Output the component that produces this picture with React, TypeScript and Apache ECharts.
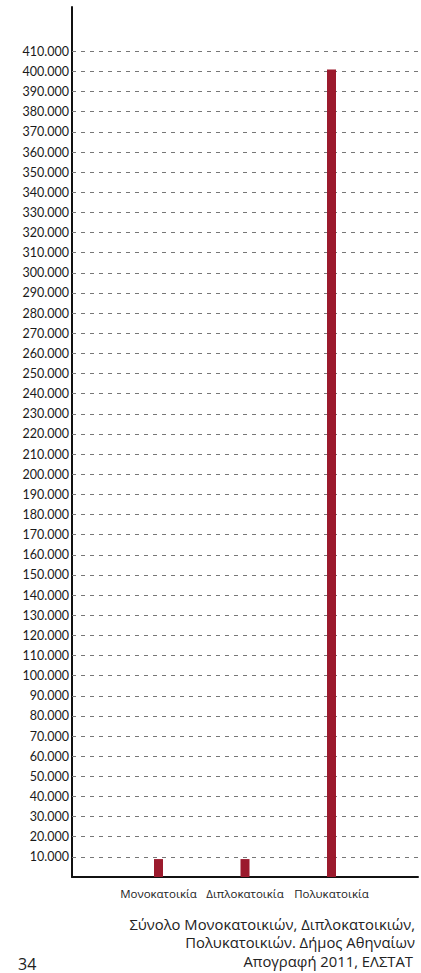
import React, { useEffect, useRef } from "react";
import * as echarts from "echarts";

const categories = ["", "Μονοκατοικία", "Διπλοκατοικία", "Πολυκατοικία", ""];
const values: (number | null)[] = [null, 8900, 8900, 401000, null];
const gridTicks = [
  10000, 20000, 30000, 40000, 50000, 60000, 70000, 80000, 90000, 100000,
  110000, 120000, 130000, 140000, 150000, 160000, 170000, 180000, 190000, 200000,
  210000, 220000, 230000, 240000, 250000, 260000, 270000, 280000, 290000, 300000,
  310000, 320000, 330000, 340000, 350000, 360000, 370000, 380000, 390000, 400000, 410000,
];
const footerLines = [
  "Σύνολο Μονοκατοικιών, Διπλοκατοικιών,",
  "Πολυκατοικιών. Δήμος Αθηναίων",
  "Απογραφή 2011, ΕΛΣΤΑΤ",
];
const pageNumber = "34";

const FONT = "Lato, 'Noto Sans', sans-serif";
const TFONT = "'Open Sans', 'Noto Sans', sans-serif";
const fmt = (v: number) => String(v).replace(/\B(?=(\d{3})+(?!\d))/g, ".");

export default function App() {
  const ref = useRef<HTMLDivElement>(null);
  useEffect(() => {
    if (!ref.current) return;
    const chart = echarts.init(ref.current, null, { renderer: "svg" });
    const labelSet = new Set(gridTicks);
    const footerY = [923.5, 942, 960.5];
    const footerX = [415, 415, 413];
    chart.setOption({
      animation: false,
      backgroundColor: "#ffffff",
      textStyle: { fontFamily: FONT },
      grid: { left: 72, right: -5, top: 7, bottom: 96, containLabel: false },
      xAxis: {
        type: "category",
        data: categories,
        boundaryGap: false,
        axisLine: { show: true, lineStyle: { color: "#111", width: 2 } },
        axisTick: { show: false },
        axisLabel: { interval: 0, color: "#222", fontSize: 11.5, margin: 10, fontFamily: TFONT },
        splitLine: { show: false },
      },
      yAxis: {
        type: "value",
        min: 0,
        max: 432000,
        interval: 10000,
        axisLine: { show: true, lineStyle: { color: "#111", width: 2 } },
        axisTick: { show: false },
        splitLine: { show: false },
        axisLabel: {
          color: "#1a1a1a",
          fontSize: 12.5,
          margin: 3,
          fontFamily: FONT,
          formatter: (v: number) => (labelSet.has(v) ? fmt(v) : ""),
        },
      },
      series: [
        {
          type: "bar",
          data: values,
          barWidth: 9,
          itemStyle: { color: "#9b1a2d" },
          z: 3,
          markLine: {
            silent: true,
            symbol: "none",
            label: { show: false },
            lineStyle: { color: "#777777", type: [4, 5], width: 1 },
            data: gridTicks.map((v) => ({ yAxis: v })),
            z: 1,
          },
        },
      ],
      graphic: [
        ...footerLines.map((t, i) => ({
          type: "text",
          x: footerX[i],
          y: footerY[i],
          style: {
            text: t,
            fill: "#222",
            font: `14.8px ${TFONT}`,
            lineHeight: 17,
            align: "right",
            verticalAlign: "middle",
          },
        })),
        {
          type: "text",
          x: 18,
          y: 963.5,
          style: {
            text: pageNumber,
            fill: "#222",
            font: `500 16px ${TFONT}`,
            lineHeight: 14,
            align: "left",
            verticalAlign: "middle",
          },
        },
      ],
    });
    return () => chart.dispose();
  }, []);
  return (
    <div
      ref={ref}
      style={{ position: "fixed", left: 0, top: 0, width: 421, height: 973, background: "#fff" }}
    />
  );
}
